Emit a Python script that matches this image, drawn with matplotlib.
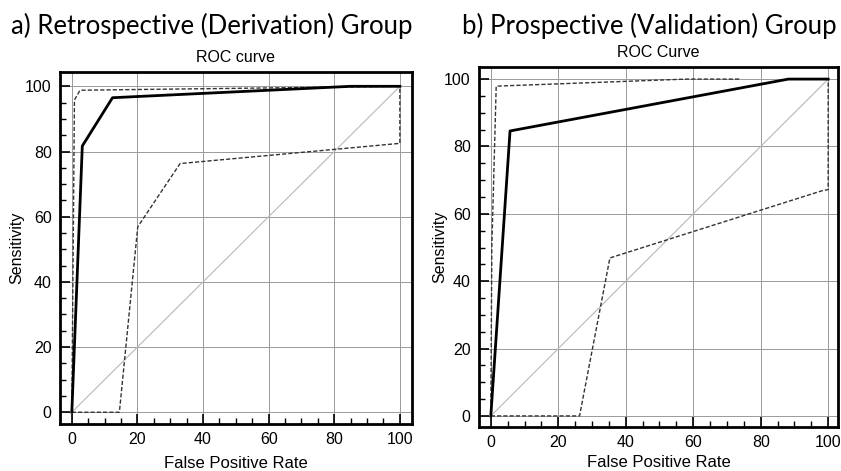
import matplotlib
matplotlib.use("Agg")
from matplotlib import pyplot as plt
from matplotlib.ticker import MultipleLocator

# a) retrospective (derivation) group
a_roc_x = [0, 3.2, 12.4, 85, 100]
a_roc_y = [0, 81.7, 96.5, 100, 100]
a_hi_x = [0, 0.8, 2.5, 100]
a_hi_y = [0, 95.8, 98.8, 100]
a_lo_x = [0, 14.5, 20.1, 33.0, 100, 100]
a_lo_y = [0, 0, 56.9, 76.3, 82.5, 100]

# b) prospective (validation) group
b_roc_x = [0, 5.7, 88.2, 100]
b_roc_y = [0, 84.6, 100, 100]
b_hi_x = [0, 0.3, 1.6, 58, 74]
b_hi_y = [0, 50, 97.9, 100, 100]
b_lo_x = [0, 26.3, 35.3, 98, 100, 100]
b_lo_y = [0, 0, 46.9, 66.8, 67.2, 100]

ticks = [0, 20, 40, 60, 80, 100]

fig = plt.figure(figsize=(8.41, 4.71), dpi=100)
axa = fig.add_axes([60/841, 1-424/471, 352/841, 351.7/471])
axb = fig.add_axes([479/841, 1-426.7/471, 359.3/841, 359.4/471])

panels = [
    (axa, a_roc_x, a_roc_y, a_hi_x, a_hi_y, a_lo_x, a_lo_y, "ROC curve",
     (-3.6, 103.7), (-3.6, 104.3)),
    (axb, b_roc_x, b_roc_y, b_hi_x, b_hi_y, b_lo_x, b_lo_y, "ROC Curve",
     (-3.5, 103.0), (-3.2, 103.5)),
]

for ax, rx, ry, hx, hy, lx, ly, ttl, xl, yl in panels:
    ax.grid(True, color="#9a9a9a", lw=0.7)
    ax.set_axisbelow(True)
    ax.plot([0, 100], [0, 100], color="#b8b8b8", lw=0.8)
    ax.plot(hx, hy, color="#333333", lw=1.0, ls=(0, (3, 1.5)))
    ax.plot(lx, ly, color="#333333", lw=1.0, ls=(0, (3, 1.5)))
    ax.plot(rx, ry, color="black", lw=2.0)
    ax.set_xlim(*xl)
    ax.set_ylim(*yl)
    ax.set_xticks(ticks)
    ax.set_yticks(ticks)
    ax.xaxis.set_minor_locator(MultipleLocator(5))
    ax.yaxis.set_minor_locator(MultipleLocator(5))
    ax.tick_params(which="major", direction="in", length=7, width=1.2,
                   labelsize=11.5, pad=6, top=False, right=False)
    ax.tick_params(which="minor", direction="in", length=4, width=1.0,
                   top=False, right=False)
    for s in ax.spines.values():
        s.set_linewidth(2.0)
    ax.set_xlabel("False Positive Rate", fontsize=12, family="Liberation Sans",
                  va="center")
    ax.set_ylabel("Sensitivity", fontsize=11.5, family="Liberation Sans",
                  va="center")
    ax.text(0.5, 1.042, ttl, transform=ax.transAxes, ha="center", va="center",
            fontsize=11.5, family="Liberation Sans")
    for lab in ax.get_xticklabels() + ax.get_yticklabels():
        lab.set_family("Liberation Sans")

axa.xaxis.set_label_coords(0.5, -0.112)
axa.yaxis.set_label_coords(-0.122, 0.5)
axb.xaxis.set_label_coords(0.5, -0.1)
axb.yaxis.set_label_coords(-0.108, 0.5)

fig.text(211.5/841, 1-26/471, "a) Retrospective (Derivation) Group",
         ha="center", va="center", fontsize=18.5, family="Lato")
fig.text(649/841, 1-26/471, "b) Prospective (Validation) Group",
         ha="center", va="center", fontsize=18.5, family="Lato")

fig.savefig("out.png", dpi=100)
